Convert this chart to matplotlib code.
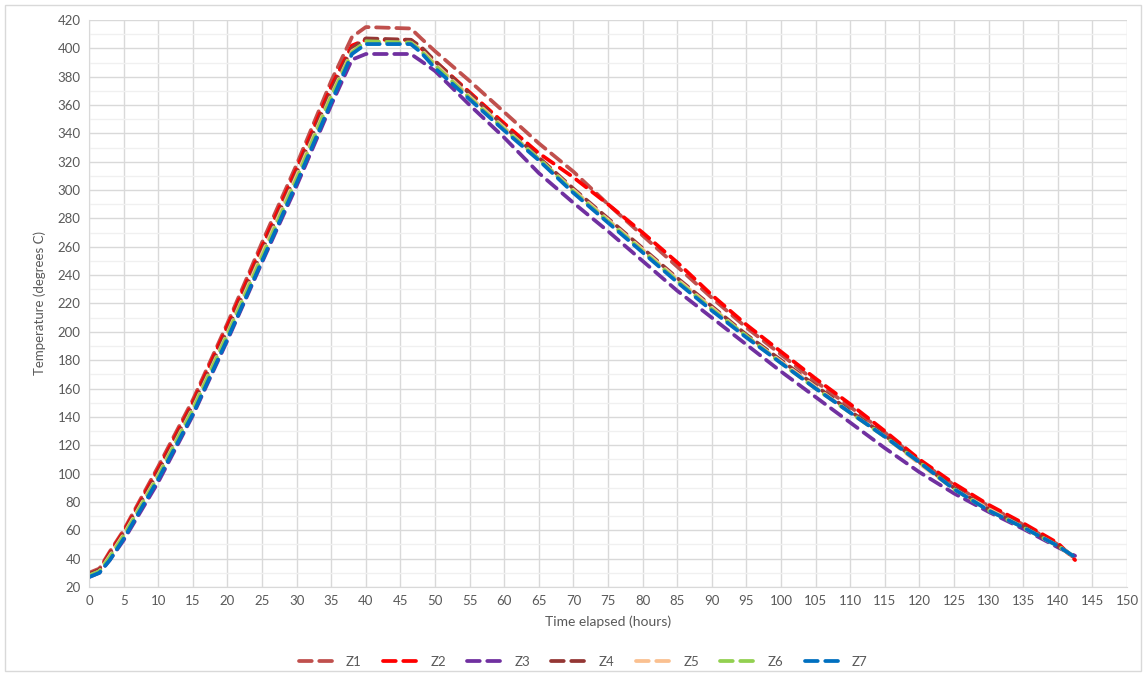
import matplotlib
matplotlib.use("Agg")
import matplotlib.pyplot as plt
from matplotlib.patches import Rectangle
from matplotlib.ticker import MultipleLocator

# sample times (hours) shared by every zone
hours = [0, 1.5, 3, 5, 10, 15, 20, 25, 30, 35, 38, 40, 46.5, 48, 50, 55, 60, 65, 70, 75,
         80, 85, 90, 95, 100, 105, 110, 115, 120, 125, 130, 135, 140, 142.5]

# zone temperatures (degrees C)
z1 = [30, 33, 45, 60, 105, 152, 206, 263, 318, 377, 408, 415, 414, 407, 398, 377, 355, 333, 313, 290,
      268, 246, 224, 203, 184, 165, 147, 129, 109, 92, 77, 64, 50, 40]
z2 = [29, 32, 44, 59, 103, 150, 204, 260, 315, 373, 402, 406, 406, 400, 391, 369, 347, 326, 309, 290,
      270, 249, 226, 205, 186, 167, 149, 130, 110, 93, 78, 65, 51, 39]
z3 = [27, 30, 39, 53, 94, 141, 194, 249, 303, 360, 392, 396, 396, 391, 384, 360, 337, 312, 291, 271,
      250, 229, 210, 191, 172, 154, 136, 118, 101, 86, 73, 61, 48, 42]
z4 = [29, 32, 43, 58, 101, 148, 201, 257, 312, 370, 400, 407, 406, 401, 391, 368, 345, 323, 301, 280,
      259, 238, 218, 198, 180, 162, 144, 127, 108, 90, 75, 63, 49, 41]
z5 = [28, 31, 42, 57, 99, 146, 199, 255, 310, 367, 398, 404, 404, 399, 389, 366, 344, 322, 300, 279,
      258, 237, 217, 197, 179, 161, 143, 126, 107, 89, 75, 62, 49, 41]
z6 = [28, 31, 41, 56, 98, 145, 198, 253, 308, 366, 397, 405, 404, 398, 388, 365, 343, 322, 299, 278,
      257, 236, 216, 197, 178, 160, 143, 126, 108, 89, 74, 62, 49, 41]
z7 = [27, 30, 39, 54, 96, 142, 195, 250, 305, 362, 396, 403, 403, 397, 386, 364, 342, 321, 298, 277,
      256, 235, 215, 196, 178, 160, 143, 126, 108, 89, 74, 62, 49, 41]

zones = ["Z1", "Z2", "Z3", "Z4", "Z5", "Z6", "Z7"]
colors = ["#C0504D", "#FF0000", "#7030A0", "#943634", "#FAC090", "#92D050", "#0070C0"]

plt.rcParams["font.family"] = ["Lato", "DejaVu Sans"]
grey = "#595959"

fig = plt.figure(figsize=(11.46, 6.75), dpi=100)
ax = fig.add_axes([0.0777, 0.1304, 0.9057, 0.84])

for name, vals, c in zip(zones, [z1, z2, z3, z4, z5, z6, z7], colors):
    ax.plot(hours, vals, color=c, linewidth=2.7, linestyle=(0, (3.4, 2.0)),
            dash_capstyle="round", label=name)

ax.set_xlim(0, 150)
ax.set_ylim(20, 420)
ax.xaxis.set_major_locator(MultipleLocator(5))
ax.yaxis.set_major_locator(MultipleLocator(20))
ax.yaxis.set_minor_locator(MultipleLocator(10))
ax.grid(which="major", color="#D9D9D9", linewidth=1.0)
ax.grid(which="minor", axis="y", color="#F0F0F0", linewidth=1.0)
ax.set_axisbelow(True)
ax.tick_params(which="both", length=0, labelsize=9.5, labelcolor=grey, pad=6)
for s in ["top", "right"]:
    ax.spines[s].set_visible(False)
for s in ["left", "bottom"]:
    ax.spines[s].set_color("#D9D9D9")

ax.set_xlabel("Time elapsed (hours)", fontsize=10, color=grey, labelpad=6)
ax.set_ylabel("Temperature (degrees C)", fontsize=9.5, color=grey, labelpad=8)

ax.legend(loc="upper center", bbox_to_anchor=(0.476, -0.1), ncol=7, frameon=False,
          fontsize=9.5, labelcolor=grey, handlelength=3.0, handletextpad=0.6,
          columnspacing=1.6)

# thin border round the chart area
fig.patches.append(Rectangle((0.004, 0.006), 0.992, 0.986, transform=fig.transFigure,
                             fill=False, edgecolor="#D9D9D9", linewidth=1.0))

fig.savefig("out.png", dpi=100)
